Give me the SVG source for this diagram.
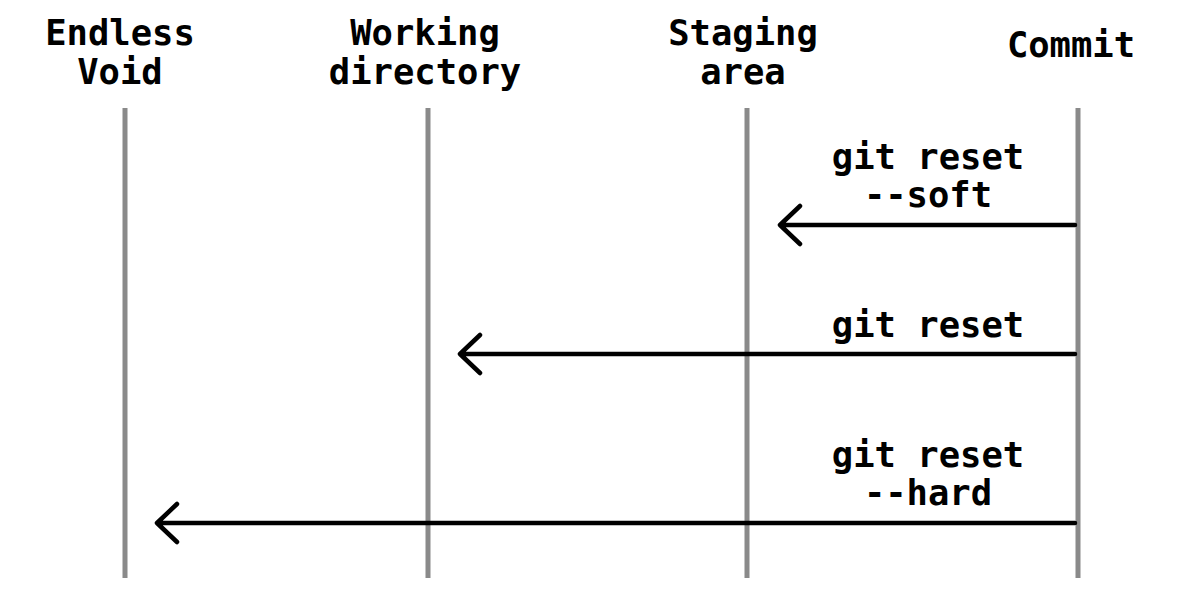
<svg xmlns="http://www.w3.org/2000/svg" width="1200" height="603" viewBox="0 0 1200 603">
<style>
text{font-family:"DejaVu Sans Mono","Liberation Mono",monospace;font-weight:bold;font-size:35.5px;fill:#000;text-anchor:middle}
.life{stroke:#8a8a8a;stroke-width:5}
.arr{stroke:#000;stroke-width:4.5;fill:none;stroke-linecap:round;stroke-linejoin:round}
</style>
<rect width="1200" height="603" fill="#fff"/>
<g id="void"><line class="life" x1="125" y1="108" x2="125" y2="578"/><text x="120" y="45">Endless</text><text x="120" y="84">Void</text></g>
<g id="working"><line class="life" x1="428" y1="108" x2="428" y2="578"/><text x="425" y="45">Working</text><text x="425" y="84">directory</text></g>
<g id="staging"><line class="life" x1="747" y1="108" x2="747" y2="578"/><text x="743" y="45">Staging</text><text x="743" y="84">area</text></g>
<g id="commit"><line class="life" x1="1078" y1="108" x2="1078" y2="578"/><text x="1071" y="57">Commit</text></g>
<g id="connectors">
<path class="arr" d="M1075 225H780M800 206L780 225L800 244"/>
<text x="928" y="169">git reset</text><text x="928" y="207">--soft</text>
<path class="arr" d="M1075 354H460M480 335L460 354L480 373"/>
<text x="928" y="337">git reset</text>
<path class="arr" d="M1075 523H157M177 504L157 523L177 542"/>
<text x="928" y="467">git reset</text><text x="928" y="505">--hard</text>
</g>
</svg>
